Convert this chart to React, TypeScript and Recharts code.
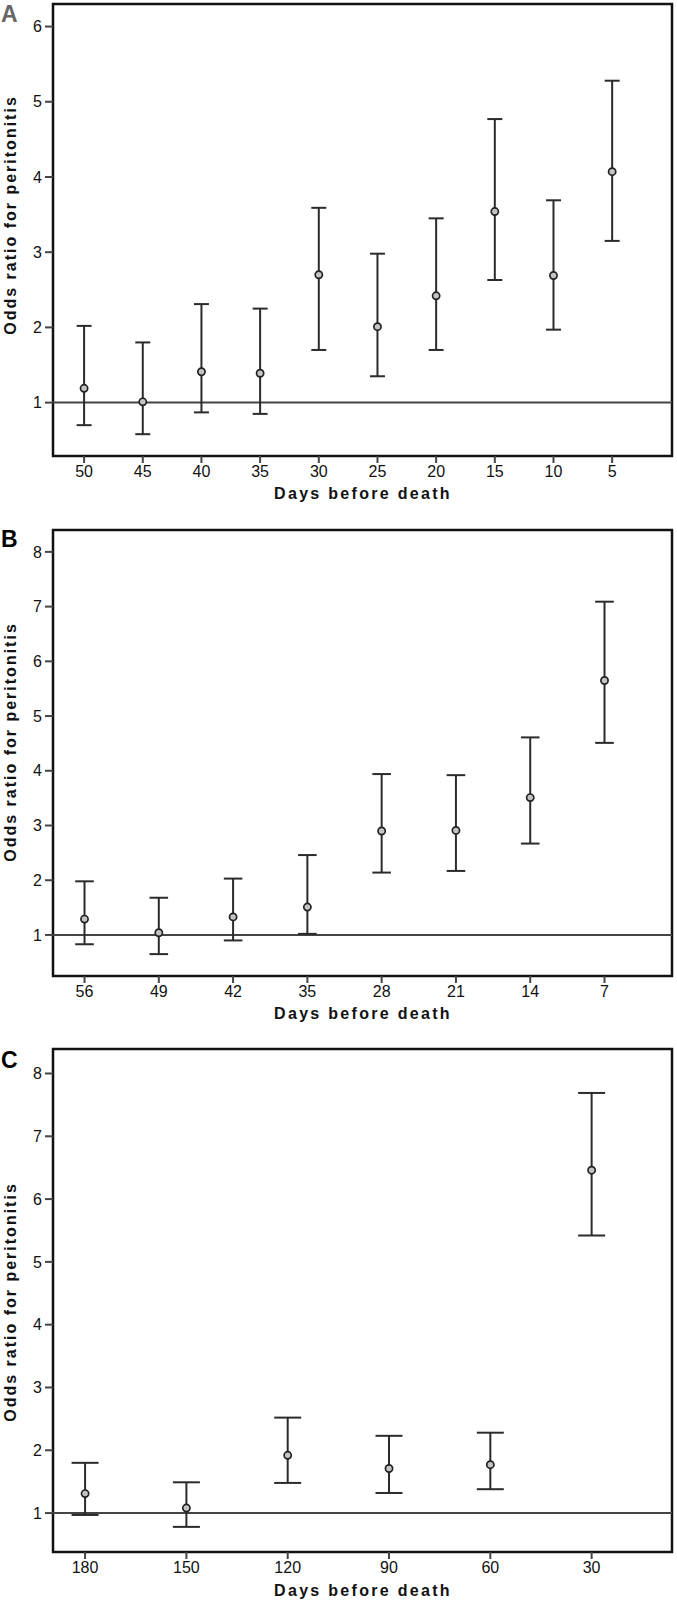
import React from 'react';
import {
  ComposedChart,
  Scatter,
  ErrorBar,
  XAxis,
  YAxis,
  ReferenceLine,
  ReferenceArea,
  Customized,
} from 'recharts';

// Panel A
const daysA = [50, 45, 40, 35, 30, 25, 20, 15, 10, 5];
const orA = [1.19, 1.01, 1.41, 1.39, 2.7, 2.01, 2.42, 3.54, 2.69, 4.07];
const loA = [0.7, 0.58, 0.87, 0.85, 1.7, 1.35, 1.7, 2.63, 1.97, 3.15];
const hiA = [2.02, 1.8, 2.31, 2.25, 3.59, 2.98, 3.45, 4.77, 3.69, 5.28];
const yTicksA = [1, 2, 3, 4, 5, 6];

// Panel B
const daysB = [56, 49, 42, 35, 28, 21, 14, 7];
const orB = [1.29, 1.04, 1.33, 1.51, 2.9, 2.91, 3.51, 5.65];
const loB = [0.83, 0.65, 0.9, 1.02, 2.14, 2.17, 2.67, 4.51];
const hiB = [1.98, 1.68, 2.03, 2.46, 3.94, 3.92, 4.61, 7.09];
const yTicksB = [1, 2, 3, 4, 5, 6, 7, 8];

// Panel C
const daysC = [180, 150, 120, 90, 60, 30];
const orC = [1.31, 1.08, 1.92, 1.71, 1.77, 6.46];
const loC = [0.97, 0.78, 1.48, 1.32, 1.38, 5.42];
const hiC = [1.8, 1.49, 2.52, 2.23, 2.28, 7.69];
const yTicksC = [1, 2, 3, 4, 5, 6, 7, 8];

const yTitle = 'Odds ratio for peritonitis';
const xTitle = 'Days before death';

const build = (days: number[], or: number[], lo: number[], hi: number[]) =>
  days.map((d, i) => ({ day: d, or: or[i], err: [or[i] - lo[i], hi[i] - or[i]] }));

const FONT = "'Liberation Sans', Arial, Helvetica, sans-serif";
const W = 677;

const Dot = (p: any) => (
  <circle cx={p.cx} cy={p.cy} r={3.6} fill="#c4c4c4" stroke="#222" strokeWidth={1.7} />
);

type PanelProps = {
  letter: string;
  letterColor: string;
  letterBaseline: number;
  data: any[];
  xTicks: number[];
  xDomain: [number, number];
  yTicks: number[];
  yDomain: [number, number];
  top: number;
  height: number;
  marginTop: number;
  marginBottom: number;
  capHalf: number;
  yTitleY: number;
  xTitleY: number;
};

function Panel(props: PanelProps) {
  const {
    letter, letterColor, letterBaseline, data, xTicks, xDomain, yTicks, yDomain,
    top, height, marginTop, marginBottom, capHalf, yTitleY, xTitleY,
  } = props;
  const Texts = () => (
    <g>
      <text x={1} y={letterBaseline} fontFamily={FONT} fontWeight="bold" fontSize={23} fill={letterColor}>
        {letter}
      </text>
      <text
        x={10}
        y={yTitleY}
        transform={`rotate(-90, 10, ${yTitleY})`}
        textAnchor="middle"
        dominantBaseline="central"
        fontFamily={FONT}
        fontWeight="bold"
        fontSize={16}
        letterSpacing={2}
        fill="#111"
      >
        {yTitle}
      </text>
      <text
        x={363}
        y={xTitleY}
        textAnchor="middle"
        dominantBaseline="central"
        fontFamily={FONT}
        fontWeight="bold"
        fontSize={16}
        letterSpacing={2.3}
        fill="#111"
      >
        {xTitle}
      </text>
    </g>
  );
  return (
    <div style={{ position: 'absolute', left: 0, top, width: W, height }}>
      <ComposedChart
        width={W}
        height={height}
        data={data}
        margin={{ top: marginTop, right: 5, bottom: marginBottom, left: 0 }}
      >
        <XAxis
          type="number"
          dataKey="day"
          domain={xDomain}
          ticks={xTicks}
          reversed
          allowDataOverflow
          interval={0}
          axisLine={false}
          tickLine={{ stroke: '#444', strokeWidth: 2 }}
          tickSize={7}
          tickMargin={3}
          height={50}
          tick={{ fill: '#111', fontSize: 16, fontFamily: FONT }}
        />
        <YAxis
          type="number"
          domain={yDomain}
          ticks={yTicks}
          allowDataOverflow
          interval={0}
          axisLine={false}
          tickLine={{ stroke: '#444', strokeWidth: 2 }}
          tickSize={8}
          tickMargin={3}
          width={53}
          tick={{ fill: '#111', fontSize: 16, fontFamily: FONT }}
        />
        <ReferenceArea
          x1={xDomain[0]}
          x2={xDomain[1]}
          y1={yDomain[0]}
          y2={yDomain[1]}
          fill="none"
          fillOpacity={0}
          stroke="#111"
          strokeWidth={2.5}
          ifOverflow="visible"
        />
        <ReferenceLine y={1} stroke="#444" strokeWidth={2} />
        <Scatter dataKey="or" isAnimationActive={false} shape={Dot}>
          <ErrorBar dataKey="err" direction="y" width={capHalf} stroke="#2b2b2b" strokeWidth={2} isAnimationActive={false} />
        </Scatter>
        <Customized component={Texts} />
      </ComposedChart>
    </div>
  );
}

export default function App() {
  return (
    <div style={{ position: 'absolute', left: 0, top: 0, width: W, height: 1603, background: '#fff' }}>
      <Panel
        letter="A"
        letterColor="#666"
        letterBaseline={22}
        data={build(daysA, orA, loA, hiA)}
        xTicks={daysA}
        xDomain={[-0.1, 52.65]}
        yTicks={yTicksA}
        yDomain={[0.29, 6.3]}
        top={0}
        height={510}
        marginTop={4}
        marginBottom={4}
        capHalf={7.5}
        yTitleY={215}
        xTitleY={493}
      />
      <Panel
        letter="B"
        letterColor="#000"
        letterBaseline={36.5}
        data={build(daysB, orB, loB, hiB)}
        xTicks={daysB}
        xDomain={[0.64, 58.97]}
        yTicks={yTicksB}
        yDomain={[0.25, 8.4]}
        top={510}
        height={520}
        marginTop={20}
        marginBottom={4}
        capHalf={9.3}
        yTitleY={232}
        xTitleY={503}
      />
      <Panel
        letter="C"
        letterColor="#000"
        letterBaseline={38}
        data={build(daysC, orC, loC, hiC)}
        xTicks={daysC}
        xDomain={[6.2, 189.5]}
        yTicks={yTicksC}
        yDomain={[0.38, 8.39]}
        top={1030}
        height={573}
        marginTop={19}
        marginBottom={1}
        capHalf={13.5}
        yTitleY={272}
        xTitleY={560.5}
      />
    </div>
  );
}
